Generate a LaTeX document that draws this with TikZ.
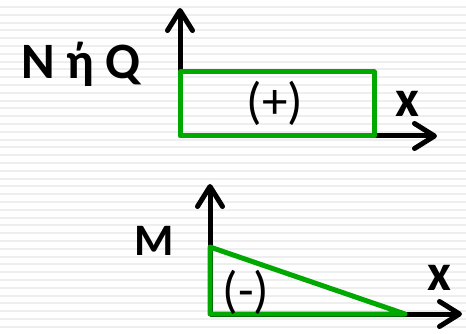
\documentclass[tikz,border=0pt]{standalone}
\usepackage{fontspec}
\setmainfont{Carlito}
\usetikzlibrary{arrows.meta}
\definecolor{diaggreen}{RGB}{0,168,0}
\definecolor{stripegray}{RGB}{238,238,238}

\begin{document}
\begin{tikzpicture}[x=1pt, y=-1pt,
    axis/.style={line width=5pt, -{Straight Barb[length=20pt,width=25pt,round]}},
    diag/.style={diaggreen, line width=5pt, line join=round, line cap=round},
    titlelbl/.style={inner sep=0pt, font=\bfseries\fontsize{51}{60}\selectfont},
    sign/.style={inner sep=0pt, font=\fontsize{51}{60}\selectfont},
    xlbl/.style={inner sep=0pt, font=\bfseries\fontsize{52}{60}\selectfont}]

    % Sfondo a righe
    \fill[white] (0,0) rectangle (466,334);
    \foreach \k in {0,...,41} {
        \fill[stripegray] (0,6+7.8*\k) rectangle (466,8+7.8*\k);
    }
    \useasboundingbox (0,0) rectangle (466,334);

    % Diagramma N o Q
    \coordinate (o1) at (180,136);
    \coordinate (y1) at (180,8);
    \coordinate (x1) at (437,136);
    \draw[axis] (o1) -- (y1);
    \draw[axis] (o1) -- (x1);
    \draw[diag] (o1) rectangle (374,72);
    \node[titlelbl, anchor=base west] (nq) at (21,79) {N ή Q};
    \node[sign] (plus) at (275,103) {(+)};
    \node[xlbl, anchor=base] (xa) at (407,117) {x};

    % Diagramma M
    \coordinate (o2) at (210,314);
    \coordinate (y2) at (210,184);
    \coordinate (x2) at (462,314);
    \draw[axis] (o2) -- (y2);
    \draw[axis] (o2) -- (x2);
    \draw[diag] (o2) -- (210,247) -- (405,314) -- cycle;
    \node[titlelbl, font=\bfseries\fontsize{45}{52}\selectfont, anchor=base west] (m) at (134,255) {M};
    \node[sign] (minus) at (246,292) {(-)};
    \node[xlbl, anchor=base] (xb) at (439,290) {x};

\end{tikzpicture}
\end{document}
